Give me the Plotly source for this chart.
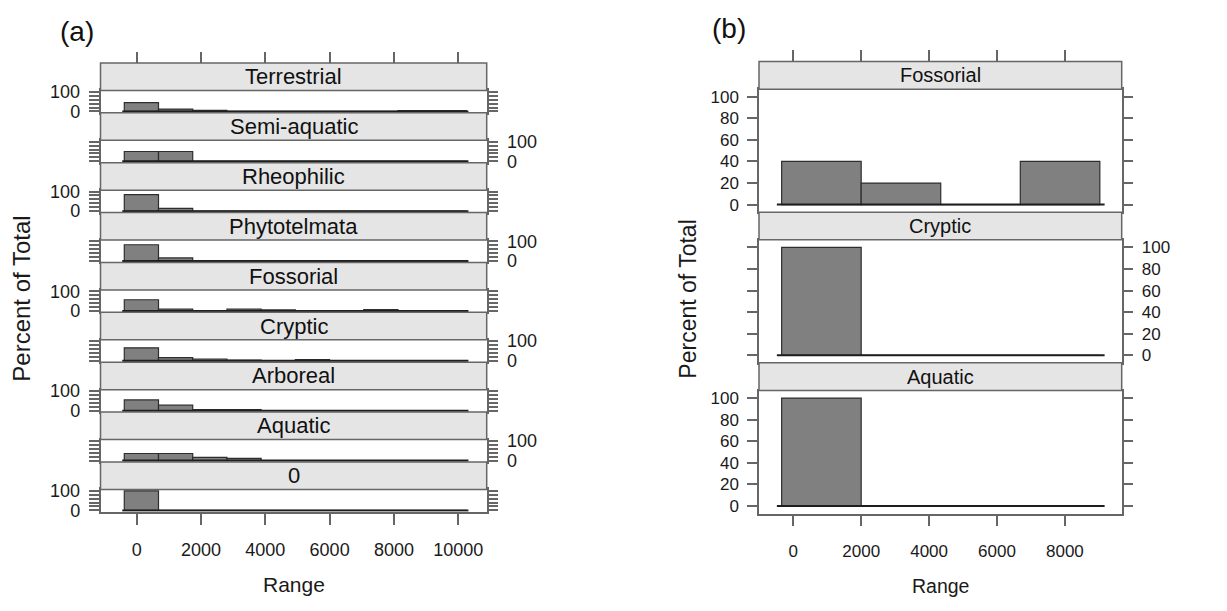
import plotly.graph_objects as go

W, H = 1227, 611

# ---------------- data ----------------
# panel (a): histogram of Range by habitat (percent of total), 10 bins
habitats_a = ["Terrestrial", "Semi-aquatic", "Rheophilic", "Phytotelmata",
              "Fossorial", "Cryptic", "Arboreal", "Aquatic", "0"]
edges_a = [-386, 678, 1742, 2806, 3870, 4934, 5998, 7062, 8126, 9190, 10254]
pct_terrestrial = [45, 12, 5, 0, 0, 0, 0, 0, 4, 4]
pct_semiaquatic = [50, 50, 0, 0, 0, 0, 0, 0, 0, 0]
pct_rheophilic = [84, 14, 0, 0, 0, 0, 0, 0, 0, 0]
pct_phytotelmata = [83, 16, 0, 0, 0, 0, 0, 0, 0, 0]
pct_fossorial = [57, 9, 0, 9, 5, 0, 0, 7, 0, 0]
pct_cryptic = [66, 16, 9, 4, 0, 6, 0, 0, 0, 0]
pct_arboreal = [55, 28, 6, 6, 0, 0, 0, 0, 0, 0]
pct_aquatic = [36, 36, 16, 11, 0, 0, 0, 0, 0, 0]
pct_zero = [100, 0, 0, 0, 0, 0, 0, 0, 0, 0]
xticks_a = [0, 2000, 4000, 6000, 8000, 10000]
xlabels_a = ["0", "2000", "4000", "6000", "8000", "10000"]

# panel (b): 4 bins
habitats_b = ["Fossorial", "Cryptic", "Aquatic"]
edges_b = [-343, 2000, 4343, 6686, 9029]
pct_b_fossorial = [40, 20, 0, 40]
pct_b_cryptic = [100, 0, 0, 0]
pct_b_aquatic = [100, 0, 0, 0]
xticks_b = [0, 2000, 4000, 6000, 8000]
xlabels_b = ["0", "2000", "4000", "6000", "8000"]

yticks = [0, 20, 40, 60, 80, 100]
ylabels_a = ["0", "", "", "", "", "100"]
ylabels_b = ["0", "20", "40", "60", "80", "100"]

series_a = [pct_terrestrial, pct_semiaquatic, pct_rheophilic, pct_phytotelmata,
            pct_fossorial, pct_cryptic, pct_arboreal, pct_aquatic, pct_zero]
series_b = [pct_b_fossorial, pct_b_cryptic, pct_b_aquatic]

# ---------------- style ----------------
FONT = "Liberation Sans, Arial, Helvetica, sans-serif"
LINE_C = "#666666"
TXT_C = "#1a1a1a"
BAR_FILL = "#808080"
BAR_EDGE = "#2e2e2e"
STRIP_FILL = "#e5e5e5"
YRANGE = [-7, 107]


def px_x(p):
    return p / W


def px_y(p):
    return 1 - p / H


fig = go.Figure()
layout = dict(
    width=W, height=H, margin=dict(l=0, r=0, t=0, b=0),
    paper_bgcolor="white", plot_bgcolor="white",
    showlegend=False, font=dict(family=FONT, color=TXT_C),
)
shapes = []
annotations = []


def axname(n, a):
    return f"{a}axis" if n == 1 else f"{a}axis{n}"


def ref(n, a):
    return a if n == 1 else f"{a}{n}"


def add_panel(n, edges, values, xrange, xdom, strip_top, strip_bot, panel_bot,
              label, yside, ytext, bottom, xticks, xlabels, tick_size, strip_size):
    centers = [(edges[i] + edges[i + 1]) / 2 for i in range(len(values))]
    widths = [edges[i + 1] - edges[i] for i in range(len(values))]
    pad = 0.06 * widths[0]
    fig.add_trace(go.Scatter(
        x=[edges[0] - pad, edges[-1] + pad], y=[0, 0], mode="lines",
        line=dict(color="#1e1e1e", width=2), xaxis=ref(n, "x"), yaxis=ref(n, "y"),
        hoverinfo="skip"))
    fig.add_trace(go.Bar(
        x=centers, y=values, width=widths, base=0,
        marker=dict(color=BAR_FILL, line=dict(color=BAR_EDGE, width=1.2)),
        xaxis=ref(n, "x"), yaxis=ref(n, "y"), hoverinfo="skip"))
    layout[axname(n, "x")] = dict(
        domain=list(xdom), anchor=ref(n, "y"), range=xrange,
        showgrid=False, zeroline=False, showline=True, mirror=True,
        linecolor=LINE_C, linewidth=1.5,
        ticks="outside" if bottom else "", tickvals=xticks, ticktext=xlabels,
        showticklabels=bottom, ticklen=11, tickwidth=1.5, tickcolor=LINE_C,
        tickfont=dict(size=tick_size, color=TXT_C, family=FONT),
        ticklabelstandoff=10,
    )
    layout[axname(n, "y")] = dict(
        domain=[px_y(panel_bot), px_y(strip_bot)], anchor=ref(n, "x"),
        range=YRANGE, showgrid=False, zeroline=False, showline=True,
        mirror="ticks", linecolor=LINE_C, linewidth=1.5,
        ticks="outside", ticklen=10, tickwidth=1.5, tickcolor=LINE_C,
        tickvals=yticks, ticktext=ytext, side=yside,
        tickfont=dict(size=tick_size, color=TXT_C, family=FONT),
        ticklabelstandoff=5,
    )
    shapes.append(dict(
        type="rect", xref="paper", yref="paper",
        x0=xdom[0], x1=xdom[1], y0=px_y(strip_bot), y1=px_y(strip_top),
        fillcolor=STRIP_FILL, line=dict(color=LINE_C, width=1.5), layer="above"))
    annotations.append(dict(
        text=label, xref="paper", yref="paper",
        x=(xdom[0] + xdom[1]) / 2, y=px_y((strip_top + strip_bot) / 2),
        xanchor="center", yanchor="middle", showarrow=False,
        font=dict(size=strip_size, color="#111111", family=FONT)))


# ---------------- panel (a) ----------------
xdom_a = (px_x(100.5), px_x(486.7))
xrange_a = [-1126, 10886]
top_a, step_a, strip_a = 56.5, 51.3, 28.3
n = 1
for i, (lab, vals) in enumerate(zip(habitats_a, series_a)):
    st = top_a + i * step_a
    sb = st + strip_a
    pb = st + step_a
    add_panel(n, edges_a, vals, xrange_a, xdom_a, st, sb, pb, lab,
              "left" if i % 2 == 0 else "right", ylabels_a,
              i == len(habitats_a) - 1, xticks_a, xlabels_a, 18, 22)
    n += 1

# ---------------- panel (b) ----------------
xdom_b = (px_x(759), px_x(1121.7))
xrange_b = [-1010, 9673]
top_b, step_b, strip_b = 55, 155, 28.5
first_b = n
for i, (lab, vals) in enumerate(zip(habitats_b, series_b)):
    st = top_b + i * step_b
    sb = st + strip_b
    pb = st + step_b
    add_panel(n, edges_b, vals, xrange_b, xdom_b, st, sb, pb, lab,
              "left" if i % 2 == 0 else "right", ylabels_b,
              i == len(habitats_b) - 1, xticks_b, xlabels_b, 17, 20)
    n += 1

# top tick marks (free overlay axes at top of each block)
for k, (base_n, top_px, xt, xr) in enumerate([(1, top_a, xticks_a, xrange_a),
                                                (first_b, top_b, xticks_b, xrange_b)]):
    m = 30 + k
    layout[axname(m, "x")] = dict(
        overlaying=ref(base_n, "x"), anchor="free", position=px_y(top_px),
        side="top", range=xr, tickvals=xt, ticks="outside", ticklen=11,
        tickwidth=1.5, tickcolor=LINE_C, showticklabels=False,
        showline=False, showgrid=False, zeroline=False)
    fig.add_trace(go.Scatter(x=[None], y=[None], xaxis=ref(m, "x"),
                             yaxis=ref(base_n, "y"), mode="markers",
                             hoverinfo="skip"))


# ---------------- titles ----------------
def text(t, x, y, size, angle=0, color=TXT_C):
    annotations.append(dict(text=t, xref="paper", yref="paper", x=px_x(x), y=px_y(y),
                            xanchor="center", yanchor="middle", showarrow=False,
                            textangle=angle, font=dict(size=size, color=color, family=FONT)))


text("(a)", 77, 24, 28, color="#111111")
text("(b)", 729, 21, 28, color="#111111")
text("Range", 293.6, 593, 21)
text("Range", 940, 595, 19.5)
text("Percent of Total", 22, 299, 24, angle=-90)
text("Percent of Total", 688, 300, 23, angle=-90)

layout["shapes"] = shapes
layout["annotations"] = annotations
fig.update_layout(**layout)
fig.write_html("out.html")
